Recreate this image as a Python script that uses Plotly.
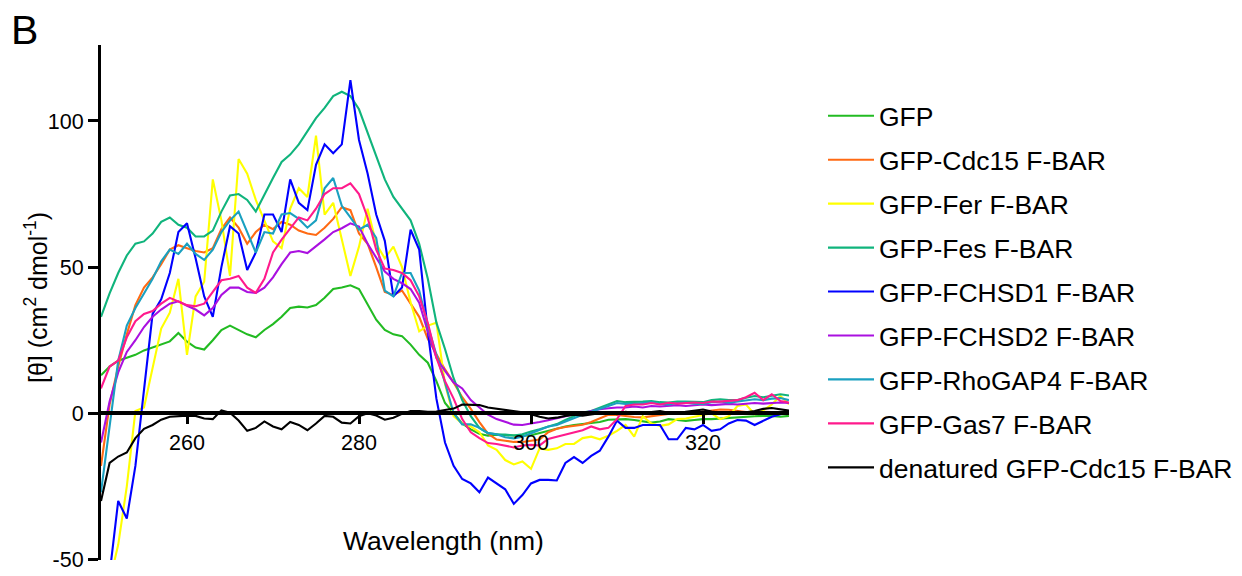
import plotly.graph_objects as go

wavelength = list(range(250, 331))

gfp = [13, 16, 18, 19, 20, 21.5, 22.5, 23.5, 24.6, 27.5,
       24.5, 22.5, 21.8, 25, 28.5, 30, 28.5, 27, 26, 28.5,
       30.5, 33, 36, 36.5, 36.2, 37, 39.5, 42.5, 43, 43.8,
       42.5, 37.5, 32, 28.5, 27, 26.4, 23.5, 20, 17.3, 11,
       3.5, 0, -3.5, -5.5, -7, -7.7, -7.3, -7.5, -7.7, -7.7,
       -7.5, -6.7, -6, -5.2, -4.5, -4, -3.7, -3.5, -3, -2.2,
       -2, -2, -2.3, -2.8, -3.2, -2.8, -2, -2.3, -2.6, -2.3,
       -2, -2, -1.8, -1.5, -1.3, -1, -1, -0.9, -0.9, -1.2,
       -0.9]

cdc15 = [-18, 3, 16, 27, 37, 43, 46.5, 51, 56, 57.5,
         56.5, 55.5, 55, 56.5, 63, 67, 63.5, 58, 62, 64.5,
         63, 65.5, 64.5, 62.5, 61.5, 61, 63.5, 66.5, 70.5, 69.5,
         61.5, 58, 50, 41.5, 40.5, 42, 37.5, 33, 25.5, 20,
         15, 10.5, 5.5, 1.5, -3, -7, -9, -9.4, -9.8, -9.8,
         -9.5, -9, -6.5, -5.3, -4.7, -4.2, -3.9, -3, -1.8, -0.5,
         -0.6, -1, -1.3, -1.4, -1, -0.7, -0.2, 0.2, -0.2, 0.2,
         0.6, 0.8, 1.3, 1.2, 0.8, 0.4, 0.3, 0.5, 0.4, 0.2,
         -0.3]

fer = [-70, -58, -45, -25, 0.8, 2, 15, 29, 34.4, 46,
       20, 40, 45, 80, 66, 47, 87, 82, 73, 66,
       58.8, 56.5, 70, 77, 74, 95, 68, 72, 60, 47,
       57, 70, 58, 53, 57, 50, 38, 28, 30, 31,
       10, -1, -3.5, -4.5, -6.5, -11, -12.5, -16, -17.5, -16.5,
       -19, -12, -12.5, -12, -10.5, -10.5, -8.5, -8, -8.9, -7.7,
       -6, -4, -8, -1, -3.5, -4.3, -3.8, -2, -1.8, -1.2,
       -0.5, 0, -2, -1, 2.5, 3, -0.3, 1, 3, 5.9,
       3.1]

fes = [33, 41, 48, 54, 58, 58.8, 61.5, 65.5, 67, 64.5,
       63.5, 60.5, 60.5, 62.5, 69, 74.5, 75, 73, 69, 75,
       80.5, 86, 88.5, 92, 96.5, 101, 104.5, 108.5, 110, 108.5,
       104, 96, 88, 80, 74, 70, 66, 58, 46, 31,
       22, 12, 4.5, -1, -5, -6.8, -7.2, -7.3, -7.6, -7.2,
       -6.2, -5.5, -4.5, -3.7, -2.3, -0.9, 0.3, 0.8, 1.9, 3.2,
       4.2, 3.8, 3.8, 4, 4.2, 3.8, 3.7, 4, 4, 3.8,
       3.8, 4.5, 4.8, 4.5, 4.5, 5.3, 5.9, 5.5, 6, 6.5,
       6.1]

fchsd1 = [-70, -55, -30, -36, -18, 8, 34, 39, 48, 62,
          65, 53, 40, 33, 50, 64, 61.5, 49, 55, 68,
          68, 62, 80, 72, 69.5, 85, 92, 89, 92, 114,
          93.5, 82, 68, 59, 40, 43, 62.8, 56, 28, 5,
          -10, -18, -22.5, -24, -27, -22, -24, -26, -31, -28,
          -24, -22.8, -22.8, -23, -17, -15, -17, -14.6, -12.8, -8,
          -2.5, -5, -5, -4, -4, -4, -8.9, -8.9, -5, -5.5,
          -4, -6, -5.5, -3.5, -2.3, -2.5, -4, -2.5, -1.2, -0.3,
          0.3]

fchsd2 = [-10, 4, 14, 21, 25, 29.5, 33, 35.5, 37.5, 38.3,
          36.8, 35.5, 33.5, 36, 40.5, 43, 43, 41.5, 41.2, 43,
          46.5, 51, 55, 55.5, 54.8, 57, 59.5, 62, 63.3, 65,
          63.9, 58, 53, 48.5, 46, 44.5, 42.5, 37.8, 28, 19,
          14.5, 10.5, 8.5, 4.5, 2, -0.5, -2, -3, -3.9, -4,
          -3.6, -3, -2.4, -1.8, -1, -0.3, 0, 0.8, 1.4, 1.7,
          2, 2, 2.3, 2, 2.5, 2.3, 2.5, 2.8, 2.5, 2.7,
          3, 2.8, 3, 3.2, 3, 3.2, 3.5, 3.3, 3.5, 3.7,
          3.5]

rhogap4 = [-27, -4, 18, 30, 36, 41, 46, 52, 56, 54.5,
           58, 54.5, 52.5, 56, 62, 66, 69, 62, 55, 62,
           61.5, 68, 68.5, 66.5, 63.5, 66, 77, 80.5, 71, 67,
           62.8, 64.5, 60, 42, 40, 48, 48, 42, 30, 20,
           10.5, 0, -3.8, -3.8, -5, -6.8, -7.2, -8.2, -8.6, -8,
           -6.8, -5.5, -4.5, -4, -2.8, -1.5, -0.5, 0.5, 1.4, 2.5,
           3.5, 3.2, 3.2, 3.5, 3.8, 3.2, 3, 3.5, 3.7, 3.3,
           3.2, 3.8, 4, 3.6, 4, 4.6, 4.8, 4.5, 5, 5.2,
           4.5]

gas7 = [8.5, 16, 18, 26, 31.5, 34, 35, 37.5, 39.5, 38.3,
        37, 36.6, 37.5, 41.5, 45.5, 46, 47, 43, 41.2, 46,
        55, 59.4, 63, 67, 66, 70, 75, 77, 77, 78.7,
        75, 67, 56, 49.5, 49, 48, 45.5, 40, 31, 19,
        11, 5, -2, -6.5, -8.5, -10.2, -10.5, -11, -11.7, -11,
        -10.8, -11, -8.8, -8, -7.2, -6.6, -5.8, -4.5, -5.5, -5,
        -2, 2.5, 3, 3, 3.5, 3, 3.6, 3.3, 3.5, 3.7,
        3.5, 4, 4, 4.2, 4.5, 5.5, 7, 4.5, 6.5, 4.2,
        3.7]

denatured = [-30, -17, -14.8, -13.4, -8.5, -5.3, -4, -2.2, -1.2, -1,
             -0.8, -0.9, -1.8, -2, 1, 0.2, -2.5, -6, -5, -2.8,
             -4.5, -5.5, -3, -4, -5.8, -3.5, -0.9, -1.2, -3.2, -3.5,
             -1, 0, -0.8, -2.2, -1.5, -0.2, 0.8, 0.8, 0.5, 0.6,
             1, 1.6, 3, 2.8, 2.8, 2, 1.6, 1.2, 0.9, 0.3,
             -0.3, -1.2, -1.8, -1.5, -0.9, -0.5, -0.8, -0.3, 0, 0.3,
             -0.3, 0.5, 0.2, -0.3, 0.4, 0.8, 0.2, -0.2, 0.5, 1,
             1.3, 0.6, 0.2, -0.2, 0.5, 0.3, 0.8, 1.5, 1.8, 1.4,
             0.9]

series_names = ["GFP", "GFP-Cdc15 F-BAR", "GFP-Fer F-BAR", "GFP-Fes F-BAR",
                "GFP-FCHSD1 F-BAR", "GFP-FCHSD2 F-BAR", "GFP-RhoGAP4 F-BAR",
                "GFP-Gas7 F-BAR", "denatured GFP-Cdc15 F-BAR"]
series_values = [gfp, cdc15, fer, fes, fchsd1, fchsd2, rhogap4, gas7, denatured]
series_colors = ["#22bb22", "#ff6a13", "#ffff00", "#10b47c", "#0000ff",
                 "#aa10e0", "#1aa0c0", "#ff1a8c", "#000000"]

x_ticks = [260, 280, 300, 320]
y_ticks = [-50, 0, 50, 100]
y_tick_text = ["-50", "0", "50", "100"]

fig = go.Figure()
for name, vals, color in zip(series_names, series_values, series_colors):
    fig.add_trace(go.Scatter(
        x=wavelength, y=vals, mode="lines", name=name, legendgroup=name,
        line=dict(color=color, width=2.1)))

# plot area in px: x 101..789, y 45..560
PL, PR, PT, PB = 101, 789, 45, 560
PW, PH = PR - PL, PB - PT

def px_x(px):
    return (px - PL) / PW

def px_y(py):
    return (PB - py) / PH

Y_MIN, Y_MAX = -50.2, 126
fig.update_layout(
    width=1242, height=576,
    margin=dict(l=PL, r=1242 - PR, t=PT, b=576 - PB, autoexpand=False),
    paper_bgcolor="white", plot_bgcolor="white",
    font=dict(family="Liberation Sans, Arial, sans-serif", color="black"),
    xaxis=dict(range=[250, 330], tickvals=x_ticks, showline=True, linecolor="black",
               linewidth=3.5, ticks="outside", ticklen=9, tickwidth=3, tickcolor="black",
               showgrid=False, zeroline=False, anchor="free", automargin=False,
               position=(0 - Y_MIN) / (Y_MAX - Y_MIN),
               tickfont=dict(size=21.5, color="black")),
    yaxis=dict(range=[Y_MIN, Y_MAX], tickvals=y_ticks, ticktext=y_tick_text,
               showline=True, linecolor="black", automargin=False,
               linewidth=3, ticks="outside", ticklen=10, tickwidth=3, tickcolor="black",
               showgrid=False, zeroline=False, tickfont=dict(size=21.5, color="black")),
    legend=dict(xref="paper", yref="paper", x=px_x(823), y=px_y(92),
                xanchor="left", yanchor="top", font=dict(size=26.5, color="black"),
                itemwidth=46, tracegroupgap=6.5, bgcolor="rgba(0,0,0,0)", maxheight=1),
    showlegend=True,
)

fig.add_annotation(text="B", xref="paper", yref="paper", x=px_x(24), y=px_y(30),
                   xanchor="center", yanchor="middle",
                   showarrow=False, font=dict(size=41, color="black"))
fig.add_annotation(text="Wavelength (nm)", xref="paper", yref="paper",
                   x=px_x(443), y=px_y(541), xanchor="center", yanchor="middle",
                   showarrow=False, font=dict(size=26.5, color="black"))
fig.add_annotation(text="[θ] (cm<sup>2</sup> dmol<sup>-1</sup>)", xref="paper", yref="paper",
                   x=px_x(36), y=px_y(298), xanchor="center", yanchor="middle",
                   showarrow=False, textangle=-90,
                   font=dict(size=25, color="black"))

fig.write_html("out.html", config={"displayModeBar": False},
               post_script="document.body.style.margin='0px';")
